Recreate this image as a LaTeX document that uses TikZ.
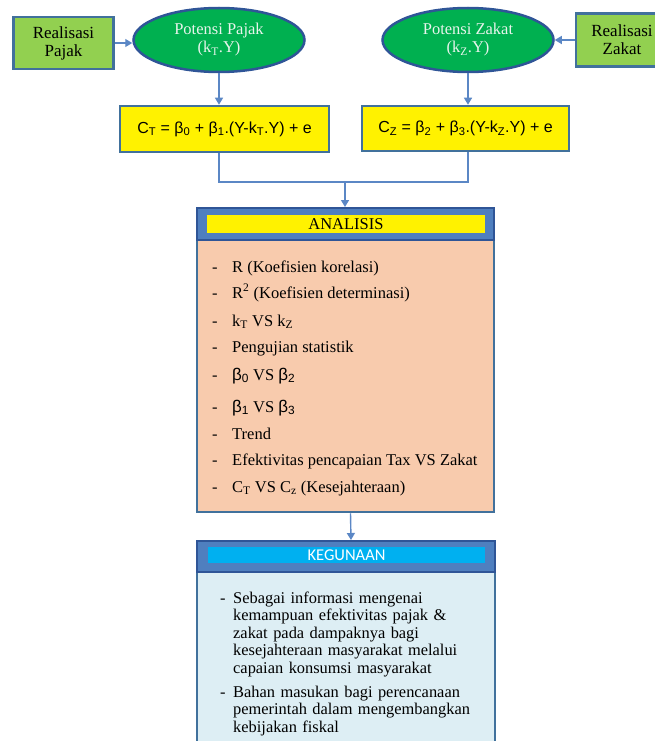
\documentclass[tikz,border=0pt]{standalone}
\usepackage{fontspec}
\setmainfont{Liberation Serif}
\newfontfamily\calfont{Carlito}
\newfontfamily\arfont{Liberation Sans}
\usetikzlibrary{shapes.geometric,arrows.meta}
\definecolor{bord}{HTML}{41719C}
\definecolor{bordd}{HTML}{2F5597}
\definecolor{lgreen}{HTML}{92D050}
\definecolor{egreen}{HTML}{00B050}
\definecolor{conn}{HTML}{5B87C5}
\definecolor{hblue}{HTML}{4F7FBF}
\definecolor{peach}{HTML}{F8CBAD}
\definecolor{lblue}{HTML}{DDEEF4}
\definecolor{cyanbar}{HTML}{00B0F0}
\definecolor{etext}{HTML}{E8F4EC}
\tikzset{
  realbox/.style={rectangle,draw=bord,line width=2.5pt,fill=lgreen,align=center,inner sep=0pt,
    font=\fontsize{17}{18}\selectfont},
  potell/.style={ellipse,draw=bordd,line width=2.5pt,fill=egreen,align=center,inner sep=0pt,
    text=etext,minimum width=171pt,minimum height=64pt,font=\fontsize{16.5}{18}\selectfont},
  formbox/.style={rectangle,draw=bord,line width=2.5pt,fill=yellow,inner sep=0pt,
    font=\arfont\fontsize{16}{17}\selectfont},
  conline/.style={draw=conn,line width=1.4pt},
  conarrow/.style={conline,-{Triangle[width=8pt,length=7pt]}},
  headbox/.style={rectangle,draw=bordd,line width=2pt,fill=hblue,inner sep=0pt},
  bodybox/.style={rectangle,draw=bord,line width=2.5pt,inner sep=0pt},
  item/.style={anchor=base west,inner sep=0pt,font=\fontsize{16.5}{17}\selectfont},
  kitem/.style={anchor=base west,inner sep=0pt,align=left,text width=260pt,
    font=\fontsize{16.4}{17.5}\selectfont},
}
\newcommand{\dsh}[1]{\makebox[#1][l]{-}}
\newcommand{\bet}[1]{{\arfont\fontsize{17}{17}\selectfont β\textsubscript{#1}}}
\begin{document}
\begin{tikzpicture}[x=1pt,y=-1pt]
\useasboundingbox (0,0) rectangle (655,741);
\clip (0,0) rectangle (655,741);

% top row
\node[realbox,minimum width=100pt,minimum height=52pt] (rp) at (63.5,43) {Realisasi\\Pajak};
\node[potell] (ep) at (219,40) {Potensi Pajak\\(k\textsubscript{T}.Y)};
\node[potell] (ez) at (468,40) {Potensi Zakat\\(k\textsubscript{Z}.Y)};
\node[realbox,minimum width=92pt,minimum height=53pt] (rz) at (622,40) {Realisasi\\Zakat};

% formula boxes
\node[formbox,minimum width=209pt,minimum height=46pt] (fp) at (224.5,129)
  {C\textsubscript{T} = β\textsubscript{0} + β\textsubscript{1}.(Y-k\textsubscript{T}.Y) + e};
\node[formbox,minimum width=207pt,minimum height=45pt] (fz) at (465.5,128.5)
  {C\textsubscript{Z} = β\textsubscript{2} + β\textsubscript{3}.(Y-k\textsubscript{Z}.Y) + e};

% ANALISIS
\node[bodybox,fill=peach,minimum width=297pt,minimum height=272pt] (ab) at (345.5,376) {};
\node[headbox,minimum width=297pt,minimum height=32pt] (an) at (345.5,224) {};
\node[rectangle,fill=yellow,minimum width=278pt,minimum height=18pt,inner sep=0pt,
  font=\fontsize{16.5}{17}\selectfont] (at) at (346,224) {ANALISIS};

\node[item] (i1) at (212,272) {\dsh{20pt}R (Koefisien korelasi)};
\node[item] (i2) at (212,298) {\dsh{20pt}R\textsuperscript{2} (Koefisien determinasi)};
\node[item] (i3) at (212,326) {\dsh{20pt}k\textsubscript{T} VS k\textsubscript{Z}};
\node[item] (i4) at (212,352) {\dsh{20pt}Pengujian statistik};
\node[item] (i5) at (212,380) {\dsh{20pt}\bet{0} VS \bet{2}};
\node[item] (i6) at (212,412) {\dsh{20pt}\bet{1} VS \bet{3}};
\node[item] (i7) at (212,439) {\dsh{20pt}Trend};
\node[item] (i8) at (212,465) {\dsh{20pt}Efektivitas pencapaian Tax VS Zakat};
\node[item] (i9) at (212,492) {\dsh{20pt}C\textsubscript{T} VS C\textsubscript{z} (Kesejahteraan)};

% KEGUNAAN
\node[bodybox,fill=lblue,minimum width=298pt,minimum height=180pt] (kb) at (346,662) {};
\node[headbox,minimum width=298pt,minimum height=31pt] (kg) at (346,556.5) {};
\node[rectangle,fill=cyanbar,minimum width=277pt,minimum height=16pt,inner sep=0pt,
  text=white,font=\calfont\fontsize{16.5}{17}\selectfont] (kt) at (346.5,555) {KEGUNAAN};

\node[item,font=\fontsize{16.4}{17}\selectfont] (d1) at (220,603) {-};
\node[kitem] (k1) at (233,603) {Sebagai informasi mengenai\\kemampuan efektivitas pajak \&\\zakat pada dampaknya bagi\\kesejahteraan masyarakat melalui\\capaian konsumsi masyarakat};
\node[item,font=\fontsize{16.4}{17}\selectfont] (d2) at (220,697) {-};
\node[kitem] (k2) at (233,697) {Bahan masukan bagi perencanaan\\pemerintah dalam mengembangkan\\kebijakan fiskal};

% connectors
\draw[conarrow] (rp.east) -- (ep.west |- rp.east);
\draw[conarrow] (rz.west) -- (ez.east);
\draw[conarrow] (ep.south) -- (ep.south |- fp.north);
\draw[conarrow] (ez.south) -- (ez.south |- fz.north);
\coordinate (jn) at (345,182);
\draw[conline] (ep.south |- fp.south) |- (jn) -| (ez.south |- fz.south);
\draw[conarrow] (jn) -- (jn |- an.north);
\draw[conarrow] ([xshift=5pt]ab.south) -- ([xshift=5pt]kg.north);
\end{tikzpicture}
\end{document}
